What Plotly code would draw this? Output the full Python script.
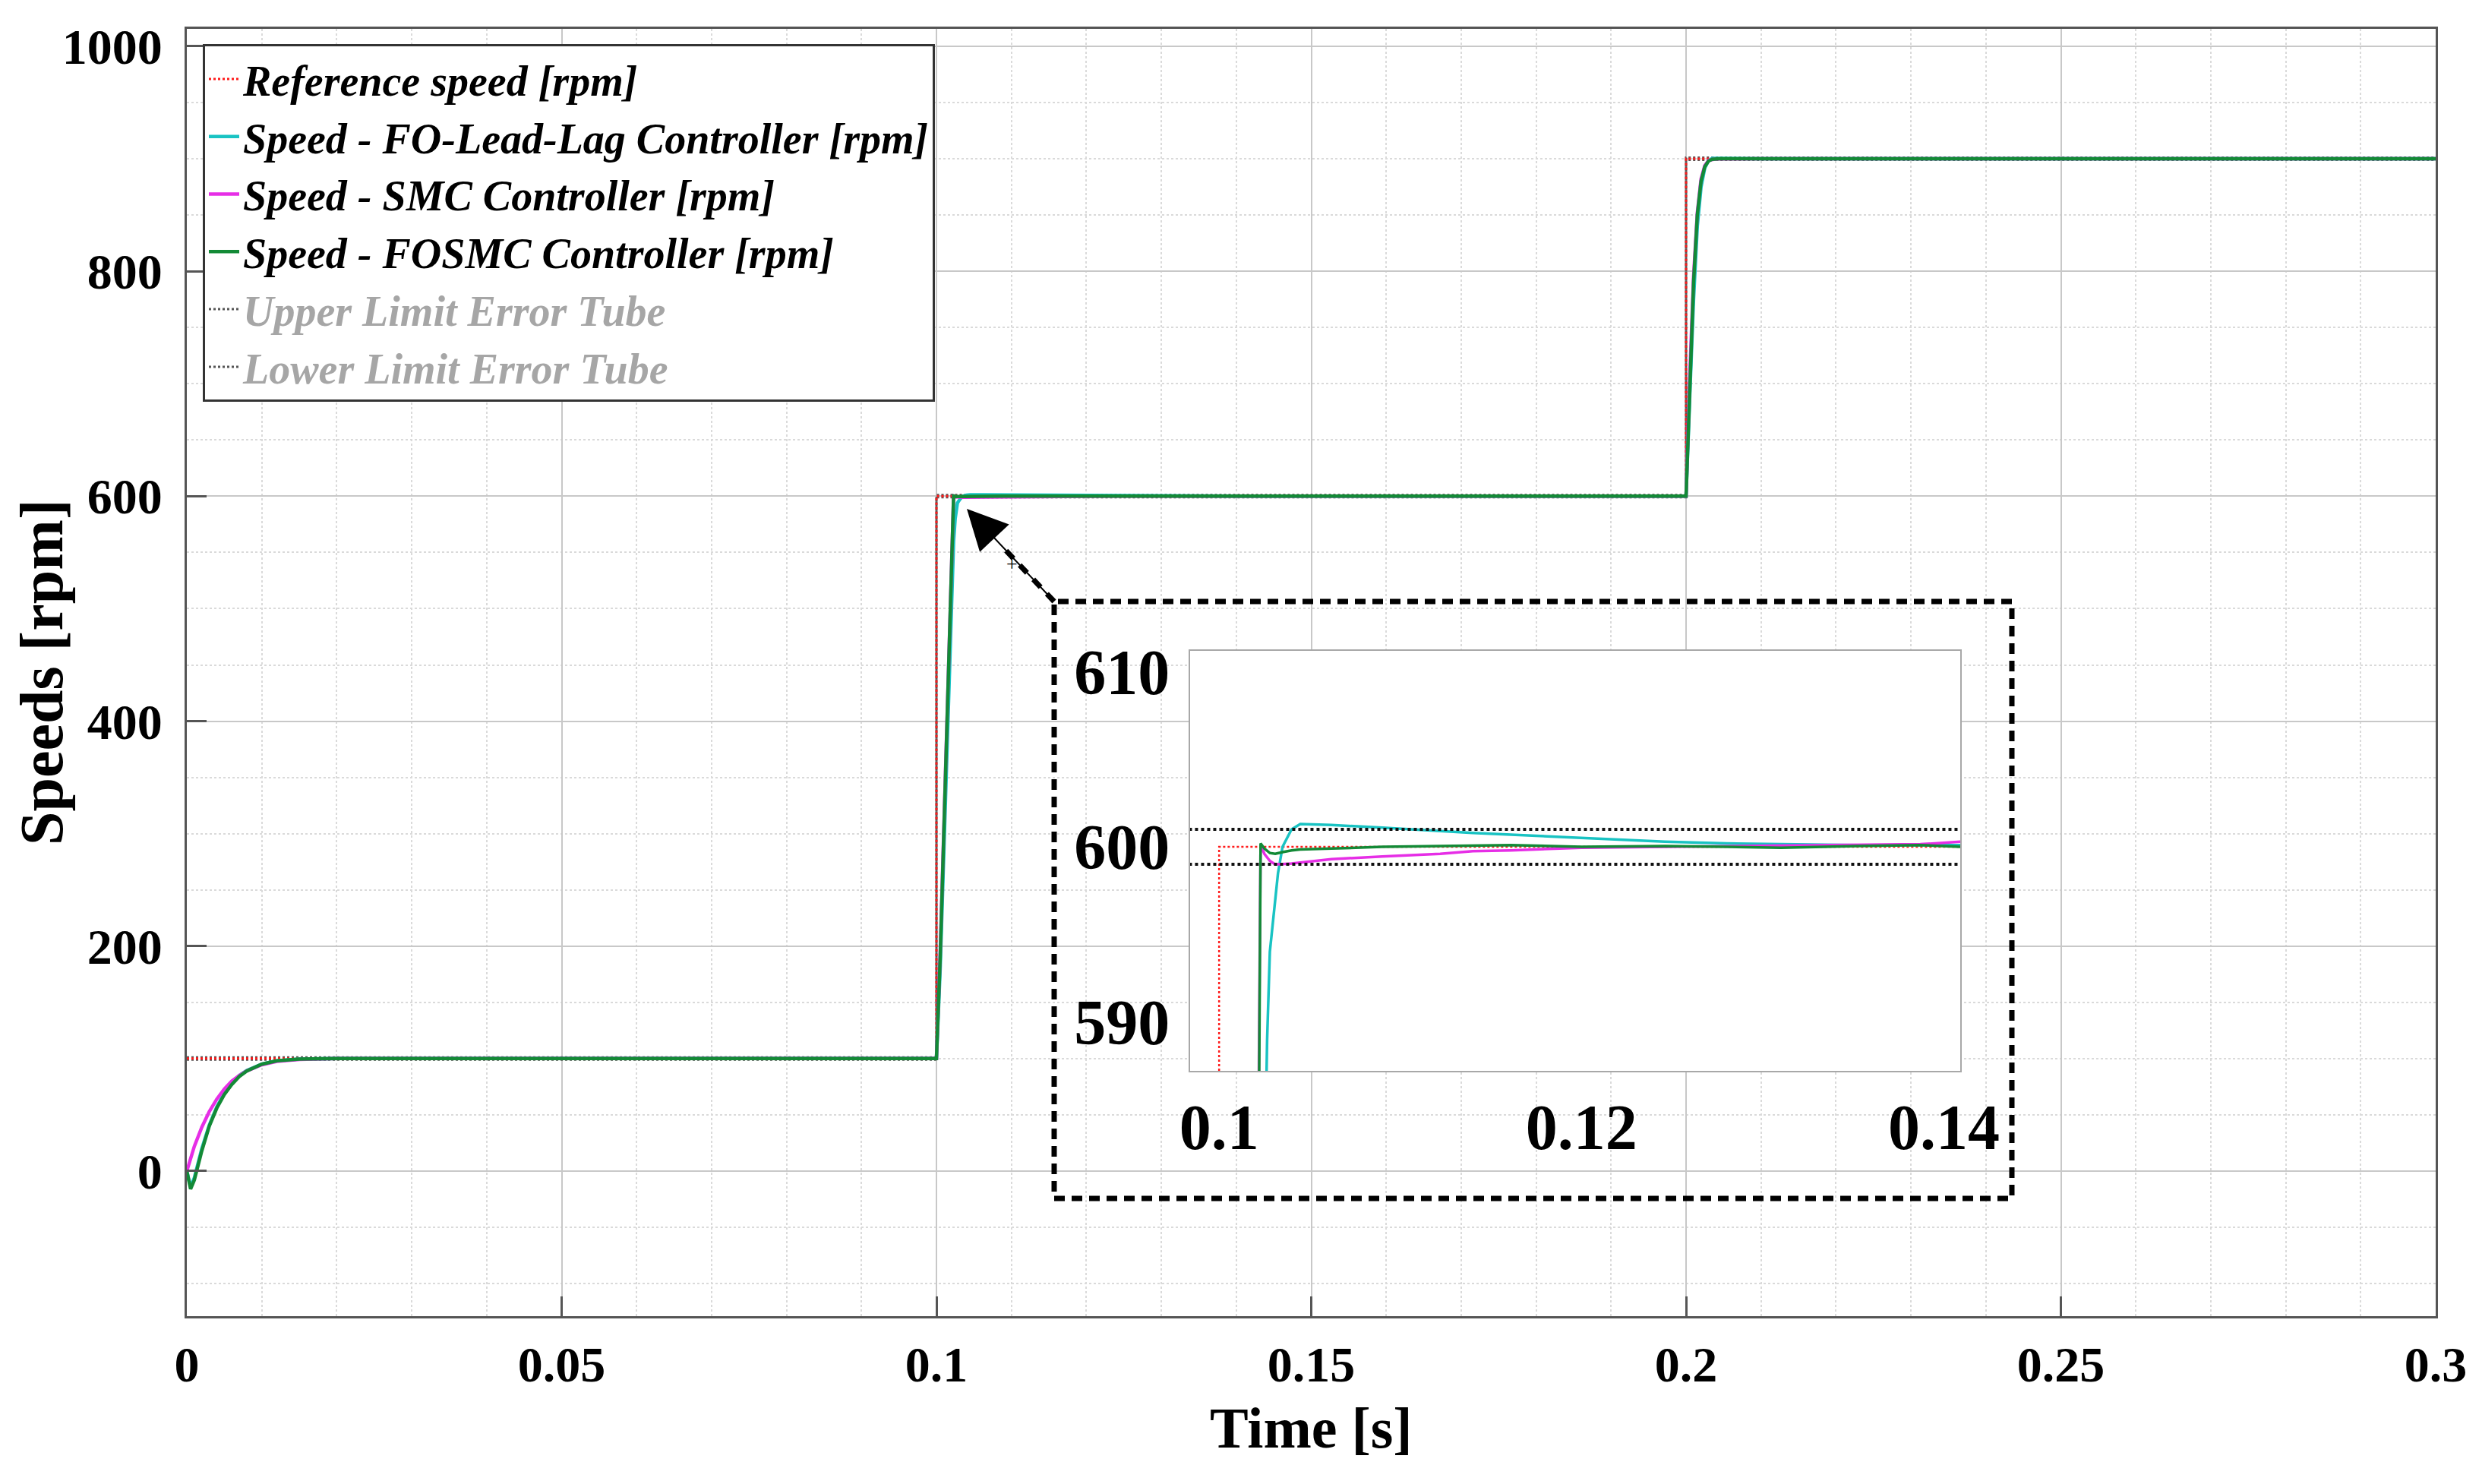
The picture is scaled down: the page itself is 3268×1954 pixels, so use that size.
import plotly.graph_objects as go

# ---- data ----
ref_t = [0, 0.1, 0.1, 0.2, 0.2, 0.3]
ref_speed = [100, 100, 600, 600, 900, 900]
tube_up = [101, 101, 601, 601, 901, 901]
tube_low = [99, 99, 599, 599, 899, 899]
inset_tube_t = [0.098, 0.15]
inset_tube_up = [601, 601]
inset_tube_low = [599, 599]

t = [0, 0.0005, 0.001, 0.002, 0.003, 0.004, 0.005, 0.006, 0.007, 0.008, 0.010, 0.012, 0.015, 0.020, 0.050, 0.100,
     0.1005, 0.1010, 0.1015, 0.1020, 0.1022, 0.10229, 0.1025, 0.10265, 0.1028, 0.1031, 0.10325, 0.1035, 0.1040,
     0.10448, 0.1062, 0.1090, 0.1122, 0.1140, 0.1161, 0.1200, 0.1246, 0.1280, 0.1310, 0.1334, 0.1352, 0.1387,
     0.1410, 0.1500, 0.2000,
     0.2005, 0.2010, 0.2015, 0.2020, 0.2025, 0.2030, 0.2035, 0.2045, 0.2100, 0.2500, 0.3000]

fo_leadlag = [0, -14, -6, 20, 41, 57, 69, 78, 85, 89.5, 95, 98, 99.5, 100, 100, 100,
              180, 290, 400, 510, 545, 560, 580, 589, 594, 597, 598.5, 600, 601,
              601.3, 601.25, 601.1, 600.9, 600.8, 600.7, 600.5, 600.3, 600.2, 600.15, 600.1, 600.1, 600.1,
              600.1, 600, 600,
              690, 775, 840, 875, 892, 898.5, 900.3, 900.2, 900, 900, 900]

smc = [0, 12, 22, 39, 53, 64, 73, 80, 85, 89, 94.5, 97.5, 99.3, 100, 100, 100,
       195, 305, 425, 545, 588, 600.1, 599.6, 599.4, 599.2, 599.0, 599.0, 599.02, 599.05,
       599.1, 599.3, 599.45, 599.6, 599.75, 599.8, 599.95, 600.0, 600.02, 600.05, 600.07, 600.1, 600.15,
       600.3, 600, 600,
       708, 795, 852, 882, 894, 898.5, 899.3, 899.8, 900, 900, 900]

fosmc = [0, -16, -8, 18, 40, 56, 68, 77, 84, 89, 95, 98, 99.5, 100, 100, 100,
         190, 300, 420, 540, 585, 600.2, 599.9, 599.75, 599.65, 599.6, 599.65, 599.7, 599.8,
         599.85, 599.9, 600.0, 600.05, 600.08, 600.1, 600.0, 600.05, 600.0, 599.95, 600.0, 600.05, 600.1,
         600.0, 600, 600,
         705, 790, 850, 880, 893, 898, 899.5, 900, 900, 900, 900]

x_ticks = [0, 0.05, 0.1, 0.15, 0.2, 0.25, 0.3]
x_labels = ['0', '0.05', '0.1', '0.15', '0.2', '0.25', '0.3']
y_ticks = [0, 200, 400, 600, 800, 1000]
inset_x_ticks = [0.1, 0.12, 0.14]
inset_x_labels = ['0.1', '0.12', '0.14']
inset_y_ticks = [590, 600, 610]
inset_xrange = [0.0984, 0.1409]
inset_yrange = [587.2, 611.2]

# ---- layout helpers (page pixel -> paper; the page body adds an 8px margin) ----
W, H = 3268, 1954
OFF = 8
def px(p):
    return (p - OFF) / W
def py(p):
    return 1 - (p - OFF) / H

SERIF = 'Liberation Serif, Times New Roman, serif'
RED = '#ff1a1a'
CYAN = '#19c3c3'
MAGENTA = '#e62ee6'
GREEN = '#138a36'
GRAYTXT = '#a6a6a6'

fig = go.Figure()

series = [
    ('Speed - FO-Lead-Lag Controller [rpm]', fo_leadlag, CYAN, 2),
    ('Speed - SMC Controller [rpm]', smc, MAGENTA, 3),
    ('Speed - FOSMC Controller [rpm]', fosmc, GREEN, 4),
]

# main axes (tubes drawn first so the reference and speeds sit on top)
fig.add_trace(go.Scatter(x=ref_t, y=tube_up, mode='lines', legendrank=5,
                         name='<span style="color:%s">Upper Limit Error Tube</span>' % GRAYTXT,
                         line=dict(color='#555555', width=3, dash='dot')))
fig.add_trace(go.Scatter(x=ref_t, y=tube_low, mode='lines', legendrank=6,
                         name='<span style="color:%s">Lower Limit Error Tube</span>' % GRAYTXT,
                         line=dict(color='#555555', width=3, dash='dot')))
fig.add_trace(go.Scatter(x=ref_t, y=ref_speed, mode='lines', name='Reference speed [rpm]', legendrank=1,
                         line=dict(color=RED, width=3, dash='dot')))
for name, vals, col, rank in series:
    fig.add_trace(go.Scatter(x=t, y=vals, mode='lines', name=name, legendrank=rank,
                             line=dict(color=col, width=4.5)))

# inset axes
fig.add_trace(go.Scatter(x=ref_t, y=ref_speed, mode='lines', showlegend=False, xaxis='x2', yaxis='y2',
                         line=dict(color=RED, width=2.5, dash='dot')))
for name, vals, col, rank in series:
    fig.add_trace(go.Scatter(x=t, y=vals, mode='lines', showlegend=False, xaxis='x2', yaxis='y2',
                             line=dict(color=col, width=3.5)))
for vals in (inset_tube_up, inset_tube_low):
    fig.add_trace(go.Scatter(x=inset_tube_t, y=vals, mode='lines', showlegend=False, xaxis='x2', yaxis='y2',
                             line=dict(color='#111111', width=4, dash='dot')))

main_axis = dict(showline=True, linecolor='#555555', linewidth=3, mirror=True, automargin=False,
                 ticks='inside', ticklen=26, tickwidth=3, tickcolor='#555555',
                 showgrid=True, gridcolor='#c8c8c8', gridwidth=2, zeroline=False,
                 tickfont=dict(family=SERIF, size=66, color='black', weight='bold'))

inset_axis = dict(ticks='', showline=True, linecolor='#a8a8a8', linewidth=2, mirror=True, zeroline=False,
                  automargin=False, showgrid=True, gridcolor='#d4d4d4', gridwidth=2,
                  tickfont=dict(family=SERIF, size=84, color='black', weight='bold'))

fig.update_layout(
    width=W, height=H, autosize=False,
    margin=dict(l=0, r=0, t=0, b=0),
    paper_bgcolor='white', plot_bgcolor='white',
    xaxis=dict(main_axis, domain=[px(246), px(3207)], range=[0, 0.3], tickvals=x_ticks, ticktext=x_labels,
               ticklabelstandoff=4,
               minor=dict(dtick=0.01, showgrid=True, gridcolor='#dadada', griddash='dot', gridwidth=2, ticks='')),
    yaxis=dict(main_axis, domain=[py(1733), py(38)], range=[-129, 1015.5], tickvals=y_ticks,
               ticklabelstandoff=16,
               minor=dict(dtick=50, showgrid=True, gridcolor='#dadada', griddash='dot', gridwidth=2, ticks='')),
    xaxis2=dict(inset_axis, domain=[px(1567), px(2581)], range=inset_xrange, anchor='y2',
                tickvals=inset_x_ticks, ticktext=inset_x_labels, ticklabelstandoff=0,
                minor=dict(dtick=0.005, showgrid=True, gridcolor='#e4e4e4', gridwidth=2, ticks='')),
    yaxis2=dict(inset_axis, domain=[py(1410), py(857)], range=inset_yrange, anchor='x2',
                tickvals=inset_y_ticks, ticklabelstandoff=8,
                minor=dict(dtick=2, showgrid=True, gridcolor='#e4e4e4', gridwidth=2, ticks='')),
    legend=dict(x=px(267), y=py(58), xanchor='left', yanchor='top',
                bgcolor='white', bordercolor='#333333', borderwidth=3,
                font=dict(family=SERIF, size=56, color='black', weight='bold', style='italic'),
                tracegroupgap=0, itemwidth=40),
    shapes=[
        dict(type='rect', xref='x2', yref='y2', x0=inset_xrange[0], x1=inset_xrange[1],
             y0=inset_yrange[0], y1=inset_yrange[1],
             layer='between', fillcolor='white', line=dict(width=0)),
        dict(type='rect', xref='paper', yref='paper', x0=px(1388), x1=px(2649), y0=py(1578), y1=py(792),
             line=dict(color='black', width=7, dash='14px,9px')),
        dict(type='line', xref='paper', yref='paper', x0=px(1388), y0=py(792), x1=px(1318), y1=py(718),
             line=dict(color='black', width=7, dash='14px,12px')),
    ],
    annotations=[
        dict(xref='paper', yref='paper', x=px(1273), y=py(670), ax=115, ay=122, text='',
             showarrow=True, arrowhead=2, arrowsize=5.3, arrowwidth=2, arrowcolor='black'),
        dict(xref='paper', yref='paper', x=px(1332), y=py(742), text='+', showarrow=False,
             font=dict(family=SERIF, size=26, color='black')),
        dict(xref='paper', yref='paper', x=px(55), y=py(885), text='Speeds [rpm]', textangle=-90,
             showarrow=False, xanchor='center', yanchor='middle',
             font=dict(family=SERIF, size=80, color='black', weight='bold')),
        dict(xref='paper', yref='paper', x=px(1726), y=py(1880), text='Time [s]',
             showarrow=False, xanchor='center', yanchor='middle',
             font=dict(family=SERIF, size=76, color='black', weight='bold')),
    ],
)

fig.write_html("out.html")
